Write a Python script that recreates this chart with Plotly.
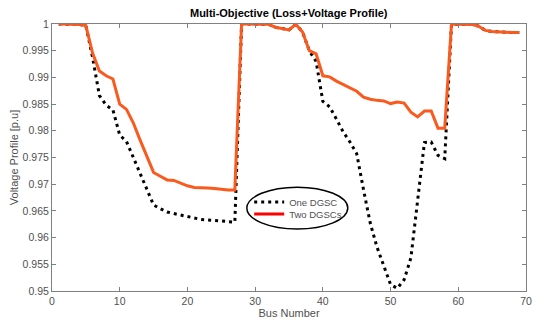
import plotly.graph_objects as go

bus = list(range(1, 70))

two_dgsc = [
    1.0, 1.0, 0.99998, 0.99992, 0.9997, 0.9945, 0.9912, 0.9903, 0.9897, 0.9850,
    0.9840, 0.9815, 0.9783, 0.9751, 0.9722, 0.9715, 0.9708, 0.9707, 0.9702, 0.9697,
    0.9694, 0.9694, 0.9693, 0.9692, 0.9690, 0.9689, 0.9689,
    1.0, 0.99998, 0.99997, 0.99995, 0.99993, 0.9994, 0.9991, 0.9989, 0.99995, 0.9985,
    0.9950, 0.9944, 0.9903, 0.9901, 0.9893, 0.9887, 0.9881, 0.9874, 0.9863, 0.9859,
    0.9857, 0.9856, 0.9851, 0.9854, 0.9852, 0.9835, 0.9826, 0.9837, 0.9837, 0.9805,
    0.9805,
    1.0, 0.99995, 0.99993, 0.99992, 0.9996, 0.9988, 0.9986, 0.9985, 0.9985, 0.9984,
    0.9984,
]

one_dgsc = [
    1.0, 1.0, 0.99998, 0.99992, 0.9997, 0.9937, 0.9866, 0.9848, 0.9839, 0.9792,
    0.9780, 0.9750, 0.9721, 0.9691, 0.9661, 0.9654, 0.9648, 0.9645, 0.9642, 0.9639,
    0.9636, 0.9634, 0.9633, 0.9632, 0.9631, 0.9630, 0.9629,
    1.0, 0.99998, 0.99997, 0.99995, 0.99993, 0.9994, 0.9991, 0.9989, 0.99995, 0.9985,
    0.9950, 0.9930, 0.9855, 0.9845, 0.9822, 0.9798, 0.9779, 0.9757, 0.9690, 0.9627,
    0.9582, 0.9545, 0.9512, 0.9505, 0.9521, 0.9562, 0.9665, 0.9778, 0.9779, 0.9754,
    0.9748,
    1.0, 0.99995, 0.99993, 0.99992, 0.9996, 0.9988, 0.9986, 0.9985, 0.9985, 0.9984,
    0.9984,
]

x_ticks = [0, 10, 20, 30, 40, 50, 60, 70]
y_ticks = [0.95, 0.955, 0.96, 0.965, 0.97, 0.975, 0.98, 0.985, 0.99, 0.995, 1.0]
y_tick_labels = ["0.95", "0.955", "0.96", "0.965", "0.97", "0.975", "0.98",
                 "0.985", "0.99", "0.995", "1"]

orange = "#fa5a1e"
font_family = "Liberation Sans, Arial, sans-serif"
tick_col = "#505050"

fig = go.Figure()
fig.add_trace(go.Scatter(
    x=bus, y=one_dgsc, mode="lines", name="One DGSC", legend="legend",
    line=dict(color="black", width=3, dash="3px,4px"),
))
fig.add_trace(go.Scatter(
    x=bus, y=two_dgsc, mode="lines", name="Two DGSCs", showlegend=False,
    line=dict(color=orange, width=3),
))
# legend sample (red) for Two DGSCs
fig.add_trace(go.Scatter(
    x=[None], y=[None], mode="lines", name="Two DGSCs", legend="legend2",
    line=dict(color="#ff0000", width=3),
))

leg_common = dict(xanchor="left", yanchor="middle", bgcolor="rgba(0,0,0,0)",
                  borderwidth=0, font=dict(size=9.5, color=tick_col),
                  itemwidth=30)

fig.update_layout(
    width=550, height=329,
    margin=dict(l=52, r=24, t=24, b=38, autoexpand=False),
    paper_bgcolor="white", plot_bgcolor="white",
    font=dict(family=font_family, size=10, color=tick_col),
    title=dict(text="<b>Multi-Objective (Loss+Voltage Profile)</b>",
               x=0.525, xanchor="center", y=0.960, yanchor="middle",
               font=dict(size=11, color="black", family=font_family)),
    showlegend=True,
    hovermode=False,
    legend=dict(x=0.416, y=0.333, **leg_common),
    legend2=dict(x=0.416, y=0.288, **leg_common),
    xaxis=dict(range=[0, 70], tickvals=x_ticks, ticks="inside", ticklen=4,
               tickcolor="#808080", showline=True, linecolor="#808080",
               linewidth=1, mirror="ticks", showgrid=False, zeroline=False,
               automargin=False,
               tickfont=dict(size=10.5, color=tick_col),
               title=dict(text="Bus Number", font=dict(size=11, color=tick_col),
                          standoff=2)),
    yaxis=dict(range=[0.95, 1.0], tickvals=y_ticks, ticktext=y_tick_labels,
               ticks="inside", ticklen=4, tickcolor="#808080", showline=True,
               linecolor="#808080", linewidth=1, mirror="ticks",
               showgrid=False, zeroline=False, automargin=False,
               tickfont=dict(size=10.5, color=tick_col),
               title=dict(text="Voltage Profile [p.u]",
                          font=dict(size=11, color=tick_col), standoff=1)),
    shapes=[dict(type="circle", xref="paper", yref="paper",
                 x0=0.411, x1=0.624, y0=0.232, y1=0.389,
                 line=dict(color="black", width=1.5))],
)

fig.write_html("out.html",
               config={"displayModeBar": False},
               post_script="document.body.style.margin='0';"
                           "document.body.style.overflow='hidden';")
